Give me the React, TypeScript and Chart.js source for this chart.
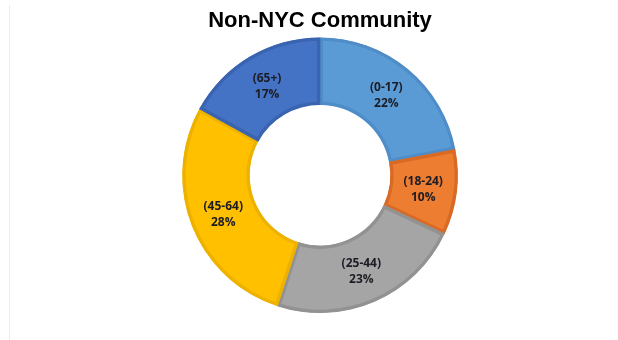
import React, { useEffect, useRef } from "react";
import { Chart, registerables } from "chart.js";

Chart.register(...registerables);

const categories = ["(0-17)", "(18-24)", "(25-44)", "(45-64)", "(65+)"];
const percents = [22, 10, 23, 28, 17];
const fillColors = ["#5B9BD5", "#ED7D31", "#A5A5A5", "#FFC000", "#4472C4"];
const edgeColors = ["#4F8DC8", "#D86A25", "#929292", "#EDB200", "#3A63B0"];
const chartTitle = "Non-NYC Community";

const labelPlugin = {
  id: "segLabels",
  afterDatasetsDraw(chart: any) {
    const ctx = chart.ctx;
    const meta = chart.getDatasetMeta(0);
    ctx.save();
    ctx.fillStyle = "#1C1C24";
    ctx.font = "bold 12px 'Open Sans', 'DejaVu Sans', sans-serif";
    ctx.textAlign = "center";
    ctx.textBaseline = "middle";
    meta.data.forEach((arc: any, i: number) => {
      const p = arc.tooltipPosition();
      ctx.fillText(categories[i], p.x, p.y - 7);
      ctx.fillText(percents[i] + "%", p.x, p.y + 9);
    });
    ctx.restore();
  },
};

export default function App() {
  const ref = useRef<HTMLCanvasElement | null>(null);
  useEffect(() => {
    if (!ref.current) return;
    const chart = new Chart(ref.current, {
      type: "doughnut",
      data: {
        labels: categories,
        datasets: [
          {
            data: percents,
            backgroundColor: fillColors,
            borderColor: edgeColors,
            borderWidth: 3,
            borderAlign: "inner",
          },
        ],
      },
      options: {
        animation: false,
        responsive: false,
        cutout: "51%",
        layout: { padding: { left: 22, right: 0, top: 0, bottom: 27 } },
        plugins: {
          legend: { display: false },
          tooltip: { enabled: false },
          title: {
            display: true,
            text: chartTitle,
            color: "#000000",
            font: { family: "'Liberation Sans', Arial, sans-serif", size: 22, weight: "bold" },
            padding: { top: 8, bottom: 3 },
          },
        },
      },
      plugins: [labelPlugin],
    });
    return () => chart.destroy();
  }, []);
  return (
    <div style={{ position: "absolute", left: 0, top: 0, width: 618, height: 340, background: "#fff" }}>
      <div style={{ position: "absolute", left: 9, top: 5, width: 1, height: 335, background: "#EDEDED" }} />
      <canvas ref={ref} width={618} height={340} style={{ position: "absolute", left: 0, top: 0 }} />
    </div>
  );
}
